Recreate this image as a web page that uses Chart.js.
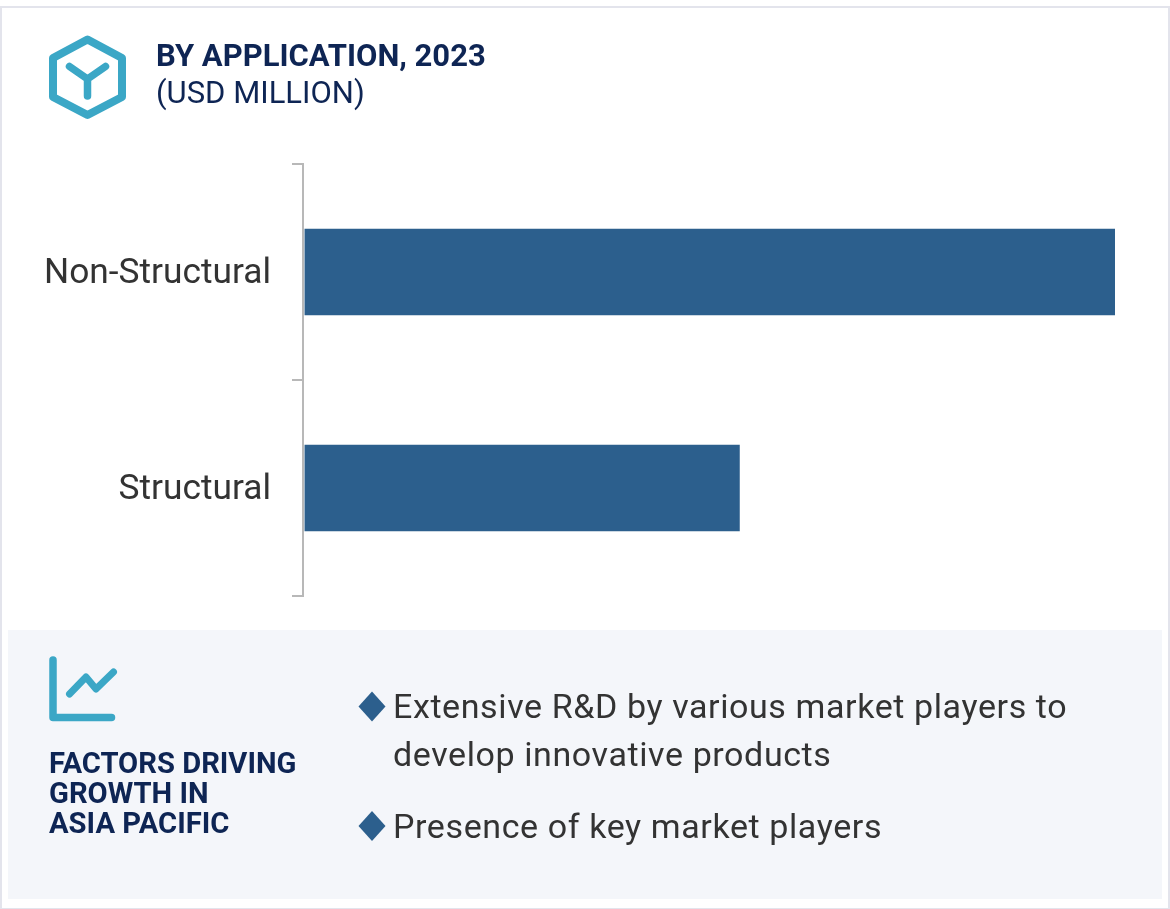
<!DOCTYPE html>
<html><head><meta charset="utf-8">
<script src="https://cdn.jsdelivr.net/npm/chart.js@4"></script>
<style>
html,body{margin:0;padding:0;background:#fff;width:1170px;height:909px;overflow:hidden;font-family:Roboto,sans-serif}
#frame{position:absolute;left:0;top:6px;width:1166px;height:900px;border:2px solid #e3e4ec}
#panel{position:absolute;left:8px;top:630px;width:1154px;height:269px;background:#f4f6fa}
canvas{position:absolute;left:0;top:0}
.t{position:absolute;white-space:nowrap}
.navy{color:#0e2554}
.b{color:#333;font-size:34px;letter-spacing:.6px;line-height:48px}
svg{position:absolute;left:0;top:0}
</style></head><body>
<div id="frame"></div><div id="panel"></div>
<canvas id="c" width="1170" height="909" style="width:1170px;height:909px"></canvas>
<svg width="1170" height="909" fill="none">
<path d="M87.500 39.500 L122 58 V97 L87.500 115 L53 97 V58 Z" stroke="#3ba7c6" stroke-width="8" stroke-linejoin="round"/>
<path d="M69.500 66.500 L87.500 79 L105.500 66.500 M87.500 79 V96" stroke="#3ba7c6" stroke-width="7.500" stroke-linecap="round" stroke-linejoin="round"/>
<path d="M53 660 V717.500 H111.500" stroke="#3ba7c6" stroke-width="7.500" stroke-linecap="round" stroke-linejoin="round"/>
<path d="M69.500 694 L86 677 L96 689 L113.500 672" stroke="#3ba7c6" stroke-width="7" stroke-linecap="round" stroke-linejoin="round"/>
<path d="M372 691.500 L385.500 706.500 L372 721.500 L358.500 706.500 Z" fill="#2c5f8d"/>
<path d="M372 811 L385.500 826 L372 841 L358.500 826 Z" fill="#2c5f8d"/>
</svg>
<div class="t navy" style="left:156px;top:38px;font-size:31px;font-weight:700;line-height:36px">BY APPLICATION, 2023</div>
<div class="t navy" style="left:156px;top:75px;font-size:31px;line-height:36px">(USD MILLION)</div>
<div class="t navy" style="left:49px;top:748px;font-size:29.200px;font-weight:700;line-height:30px">FACTORS DRIVING<br>GROWTH IN<br>ASIA PACIFIC</div>
<div class="t b" style="left:393px;top:682px">Extensive R&amp;D by various market players to<br>develop innovative products</div>
<div class="t b" style="left:393px;top:802px">Presence of key market players</div>
<script>
const categories = ["Non-Structural", "Structural"];
const values = [100, 53.7];
const nudgeLabels = {
  id: "nudgeLabels",
  beforeDraw(chart) {
    chart.scales.y.getLabelItems().forEach(item => { if (!item.nudged) { item.textOffset += 2; item.nudged = true; } });
  }
};
new Chart(document.getElementById("c"), {
  type: "bar",
  data: { labels: categories, datasets: [{ data: values, backgroundColor: "#2c5f8d", borderWidth: 0, barPercentage: 0.4, categoryPercentage: 1 }] },
  plugins: [nudgeLabels],
  options: {
    indexAxis: "y", responsive: false, animation: false, devicePixelRatio: 1,
    layout: { padding: { left: 0, right: 55, top: 164, bottom: 313 } },
    plugins: { legend: { display: false }, tooltip: { enabled: false }, title: { display: false } },
    scales: {
      x: { display: false, min: -0.19, max: 100, grid: { display: false } },
      y: {
        afterFit(s) { s.width = 303; },
        border: { display: true, color: "#b8b8b8", width: 2 },
        grid: { drawOnChartArea: false, drawTicks: true, tickLength: 11, color: "#b8b8b8", lineWidth: 2, offset: true },
        ticks: { color: "#333", padding: 21, font: { family: "Roboto", size: 35.300 } }
      }
    }
  }
});
</script>
</body></html>
